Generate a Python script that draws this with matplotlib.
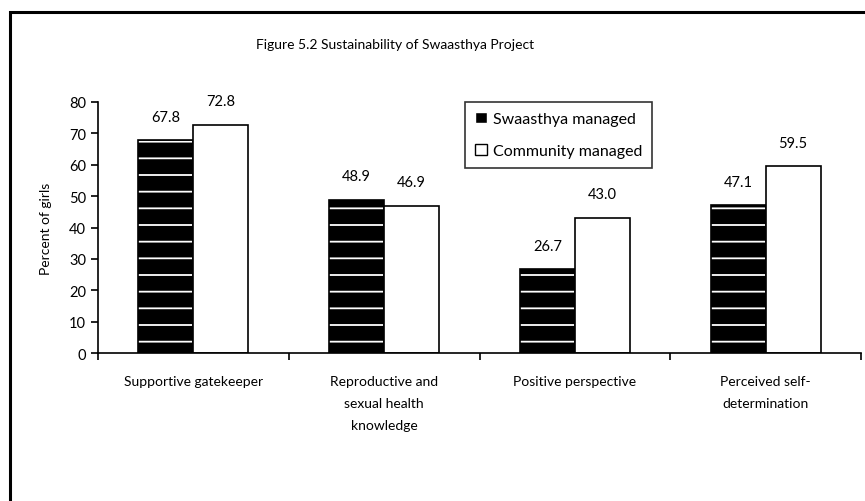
import numpy as np
import matplotlib
matplotlib.use('Agg')
import matplotlib.pyplot as plt
from matplotlib.patches import Rectangle

plt.rcParams['font.family'] = ['Lato', 'DejaVu Sans']
plt.rcParams['hatch.linewidth'] = 1.3

# data
categories = ['Supportive gatekeeper',
              'Reproductive and\nsexual health\nknowledge',
              'Positive perspective',
              'Perceived self-\ndetermination']
swaasthya = [67.8, 48.9, 26.7, 47.1]
community = [72.8, 46.9, 43.0, 59.5]
yticks = [0, 10, 20, 30, 40, 50, 60, 70, 80]

fig = plt.figure(figsize=(8.65, 5.02), dpi=100)

# outer frame (only left and top fall inside the picture)
fig.patches.append(Rectangle((10/865, -0.1), 1.2, 1 - 13/502 + 0.1,
                             transform=fig.transFigure, fill=False,
                             edgecolor='black', linewidth=2.2))

ax = fig.add_axes([98/865, 1 - 354/502, (861 - 98)/865, (354 - 103)/502])

x = np.arange(len(categories))
w = 0.288

# black bars with a white hatch, then black outline on top
ax.bar(x - w/2, swaasthya, w, color='black', edgecolor='white', hatch='-',
       linewidth=0)
ax.bar(x - w/2, swaasthya, w, fill=False, edgecolor='black', linewidth=1.2)
ax.bar(x + w/2, community, w, color='white', edgecolor='black', linewidth=1.2)

for xi, v in zip(x - w/2, swaasthya):
    ax.text(xi, v + 5.3, f'{v:.1f}', ha='center', va='bottom', fontsize=10.5)
for xi, v in zip(x + w/2, community):
    ax.text(xi, v + 5.3, f'{v:.1f}', ha='center', va='bottom', fontsize=10.5)

ax.set_xlim(-0.5, len(categories) - 0.5)
ax.set_ylim(0, 80)
ax.set_yticks(yticks)
ax.tick_params(axis='y', labelsize=10.5, length=5, width=1.2, direction='out')
ax.set_xticks(x)
ax.set_xticklabels(categories, fontsize=10, linespacing=2.0)
ax.tick_params(axis='x', which='major', length=0, pad=16)
ax.set_xticks(np.arange(len(categories) + 1) - 0.5, minor=True)
ax.tick_params(axis='x', which='minor', length=5, width=1.2, direction='out')
for s in ['top', 'right']:
    ax.spines[s].set_visible(False)
for s in ['left', 'bottom']:
    ax.spines[s].set_linewidth(1.2)
ax.set_ylabel('Percent of girls', fontsize=10, labelpad=12)

# legend
h1 = Rectangle((0, 0), 1, 1, facecolor='black', edgecolor='white', hatch='-')
h2 = Rectangle((0, 0), 1, 1, facecolor='white', edgecolor='black')
leg = ax.legend([h1, h2], ['Swaasthya managed', 'Community managed'],
                loc='upper left', bbox_to_anchor=((465 - 98)/763, 1.0),
                fontsize=11.5, frameon=True, fancybox=False, edgecolor='black',
                handlelength=0.75, handleheight=0.75, handletextpad=0.4,
                borderpad=0.6, labelspacing=1.1, borderaxespad=0.0)
leg.get_frame().set_linewidth(1.2)

fig.text(395/865, 1 - 45/502, 'Figure 5.2 Sustainability of Swaasthya Project',
         ha='center', va='center', fontsize=10)

fig.savefig('out.png', dpi=100)
